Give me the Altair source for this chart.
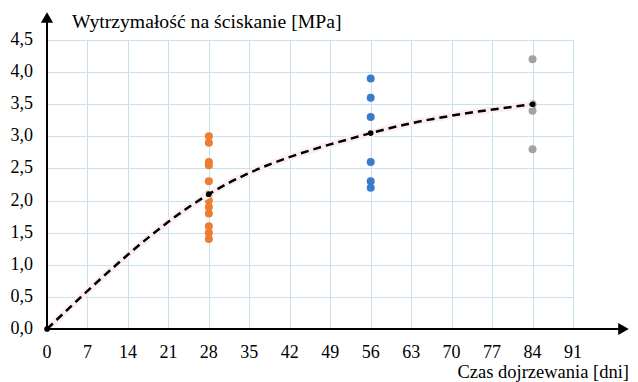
import altair as alt
import pandas as pd

# ---- data ----
vals_28 = [3.0, 2.9, 2.6, 2.55, 2.3, 2.1, 2.0, 1.9, 1.8, 1.6, 1.5, 1.4]
vals_56 = [3.9, 3.6, 3.3, 2.6, 2.3, 2.2]
vals_84 = [4.2, 3.5, 3.4, 2.8]
mean_days = [0, 28, 56, 84]
mean_vals = [0.0, 2.1, 3.05, 3.5]
x_ticks = [0, 7, 14, 21, 28, 35, 42, 49, 56, 63, 70, 77, 84, 91]
x_tick_labels = [str(v) for v in x_ticks]
y_ticks = [0.0, 0.5, 1.0, 1.5, 2.0, 2.5, 3.0, 3.5, 4.0, 4.5]
y_tick_labels = ["0,0", "0,5", "1,0", "1,5", "2,0", "2,5", "3,0", "3,5", "4,0", "4,5"]
groups = ["28", "56", "84"]
colors = ["#ED7D31", "#3B7BCB", "#A3A3A3"]

y_title = "Wytrzymałość na ściskanie [MPa]"
x_title = "Czas dojrzewania [dni]"

W, H = 526, 289
FONT = "Liberation Serif"
GRID = "#c9e0ef"

pts = pd.DataFrame({
    "day": [28] * len(vals_28) + [56] * len(vals_56) + [84] * len(vals_84),
    "value": vals_28 + vals_56 + vals_84,
    "group": ["28"] * len(vals_28) + ["56"] * len(vals_56) + ["84"] * len(vals_84),
})
means = pd.DataFrame({"day": mean_days, "value": mean_vals})
ylab = pd.DataFrame({"value": y_ticks, "label": y_tick_labels})
xlab = pd.DataFrame({"day": x_ticks, "label": x_tick_labels})
ytit = pd.DataFrame({"t": [y_title]})
xtit = pd.DataFrame({"t": [x_title]})
one = pd.DataFrame({"a": [0]})

xs = alt.Scale(domain=[0, 91], nice=False, zero=False)
ys = alt.Scale(domain=[0, 4.5], nice=False, zero=False)

x_axis = alt.Axis(
    values=x_ticks, grid=True, gridColor=GRID, gridWidth=1, domain=False,
    ticks=False, tickSize=0, labels=False, title=None,
)
y_axis = alt.Axis(
    values=y_ticks, grid=True, gridColor=GRID, gridWidth=1, domain=False,
    ticks=False, tickSize=0, labels=False, title=None,
)

X = alt.X("day:Q", scale=xs, axis=x_axis)
Y = alt.Y("value:Q", scale=ys, axis=y_axis)

scatter = alt.Chart(pts).mark_circle(size=64, opacity=1).encode(
    x=X, y=Y,
    color=alt.Color("group:N", scale=alt.Scale(domain=groups, range=colors), legend=None),
)

ylabels = alt.Chart(ylab).mark_text(
    font=FONT, fontSize=18, color="#000", align="right", baseline="middle"
).encode(x=alt.value(-14), y=Y, text="label:N")

xlabels = alt.Chart(xlab).mark_text(
    font=FONT, fontSize=18, color="#000", align="center", baseline="alphabetic"
).encode(x=X, y=alt.value(H + 28.5), text="label:N")

ytitle = alt.Chart(ytit).mark_text(
    font=FONT, fontSize=19.7, color="#000", align="left", baseline="alphabetic"
).encode(x=alt.value(25), y=alt.value(-12), text="t:N")

xtitle = alt.Chart(xtit).mark_text(
    font=FONT, fontSize=18.5, color="#000", align="right", baseline="alphabetic"
).encode(x=alt.value(582), y=alt.value(H + 48.5), text="t:N")

halo = alt.Chart(means).mark_line(color="#fbeff1", strokeWidth=7, interpolate="monotone").encode(x=X, y=Y)
dashed = alt.Chart(means).mark_line(
    color="#000", strokeWidth=2.5, strokeDash=[8, 5], interpolate="monotone"
).encode(x=X, y=Y)
dots = alt.Chart(means).mark_circle(size=32, color="#000", opacity=1).encode(x=X, y=Y)

yline = alt.Chart(one).mark_rule(color="#000", strokeWidth=2).encode(
    x=alt.value(0), y=alt.value(H), y2=alt.value(-20)
)
xline = alt.Chart(one).mark_rule(color="#000", strokeWidth=2).encode(
    x=alt.value(-1), x2=alt.value(575), y=alt.value(H)
)
yarrow = alt.Chart(one).mark_point(shape="triangle-up", filled=True, size=150, color="#000", opacity=1).encode(
    x=alt.value(0), y=alt.value(-22.5)
)
xarrow = alt.Chart(one).mark_point(shape="triangle-right", filled=True, size=150, color="#000", opacity=1).encode(
    x=alt.value(576.5), y=alt.value(H)
)

chart = alt.layer(
    scatter, ylabels, xlabels, ytitle, xtitle, halo, dashed, dots, yline, xline, yarrow, xarrow
).properties(
    width=W, height=H,
    autosize=alt.AutoSizeParams(type="none"),
    padding={"left": 39, "top": 32, "right": 57, "bottom": 53},
    background="#ffffff",
).configure_view(stroke=None)

chart.save("out.html", embed_options={"renderer": "svg", "actions": False})
